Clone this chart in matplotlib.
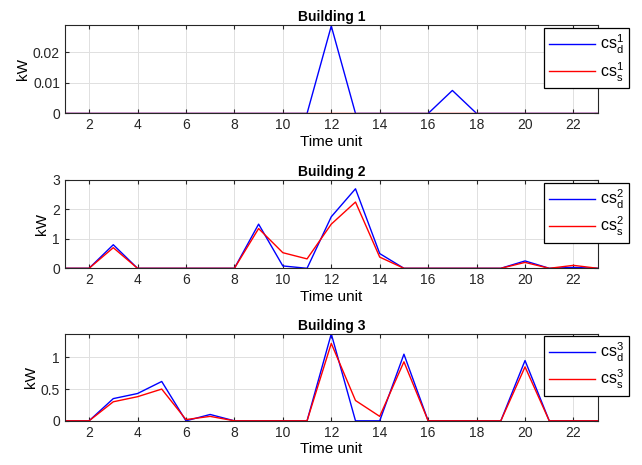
import matplotlib
matplotlib.use("Agg")
import matplotlib.pyplot as plt

plt.rcParams['font.family'] = ['Liberation Sans', 'DejaVu Sans']
plt.rcParams['mathtext.fontset'] = 'custom'
plt.rcParams['mathtext.rm'] = 'Liberation Sans'
plt.rcParams['mathtext.it'] = 'Liberation Sans'

t = list(range(1, 24))

# building 1
b1_d = [0, 0, 0, 0, 0, 0, 0, 0, 0, 0, 0, 0.0285, 0, 0, 0, 0, 0.0075, 0, 0, 0, 0, 0, 0]
b1_s = [0] * 23
# building 2
b2_d = [0, 0, 0.8, 0, 0, 0, 0, 0, 1.5, 0.08, 0, 1.75, 2.7, 0.5, 0, 0, 0, 0, 0, 0.25, 0, 0.03, 0]
b2_s = [0, 0, 0.7, 0, 0, 0, 0, 0, 1.35, 0.53, 0.32, 1.5, 2.25, 0.38, 0, 0, 0, 0, 0, 0.2, 0, 0.1, 0]
# building 3
b3_d = [0, 0, 0.35, 0.43, 0.62, 0, 0.1, 0, 0, 0, 0, 1.37, 0, 0, 1.05, 0, 0, 0, 0, 0.95, 0, 0, 0]
b3_s = [0, 0, 0.3, 0.38, 0.5, 0.02, 0.07, 0, 0, 0, 0, 1.22, 0.32, 0.07, 0.93, 0, 0, 0, 0, 0.85, 0, 0, 0]

titles = ['Building 1', 'Building 2', 'Building 3']
ylims = [0.0288, 3, 1.37]
yticks = [[0, 0.01, 0.02], [0, 1, 2, 3], [0, 0.5, 1]]
yticklabels = [['0', '0.01', '0.02'], ['0', '1', '2', '3'], ['0', '0.5', '1']]
data = [(b1_d, b1_s), (b2_d, b2_s), (b3_d, b3_s)]

# axes boxes in figure fraction [left, bottom, width, height]
boxes = [[0.101, 0.756, 0.830, 0.190],
         [0.101, 0.423, 0.830, 0.190],
         [0.101, 0.095, 0.830, 0.187]]
leg_y = [0.963, 0.965, 0.977]

fig = plt.figure(figsize=(6.42, 4.65), dpi=100)

for i in range(3):
    ax = fig.add_axes(boxes[i])
    d, s = data[i]
    ax.plot(t, d, color=(0, 0, 1), lw=1, label=r'$\mathrm{cs}_d^%d$' % (i + 1))
    ax.plot(t, s, color=(1, 0, 0), lw=1, label=r'$\mathrm{cs}_s^%d$' % (i + 1))
    ax.set_xlim(1, 23)
    ax.set_ylim(0, ylims[i])
    ax.set_xticks(range(2, 23, 2))
    ax.set_yticks(yticks[i])
    ax.set_yticklabels(yticklabels[i])
    ax.grid(True, color='#e0e0e0', lw=0.7)
    ax.set_axisbelow(True)
    ax.tick_params(direction='in', length=3, labelsize=10, top=True, right=True, colors='#262626')
    for sp in ax.spines.values():
        sp.set_color('#262626')
        sp.set_linewidth(0.8)
    ax.set_title(titles[i], fontsize=10, fontweight='bold', pad=3)
    ax.set_xlabel('Time unit', fontsize=11, labelpad=2)
    ax.set_ylabel('kW', fontsize=11, labelpad=2)
    leg = ax.legend(loc='upper right', bbox_to_anchor=(1.058, leg_y[i]), fontsize=11.5,
                    fancybox=False, edgecolor='black', framealpha=1,
                    handlelength=2.9, borderpad=0.3, labelspacing=0.25,
                    handletextpad=0.3, borderaxespad=0)
    leg.get_frame().set_linewidth(0.9)

fig.savefig('out.png', dpi=100)
